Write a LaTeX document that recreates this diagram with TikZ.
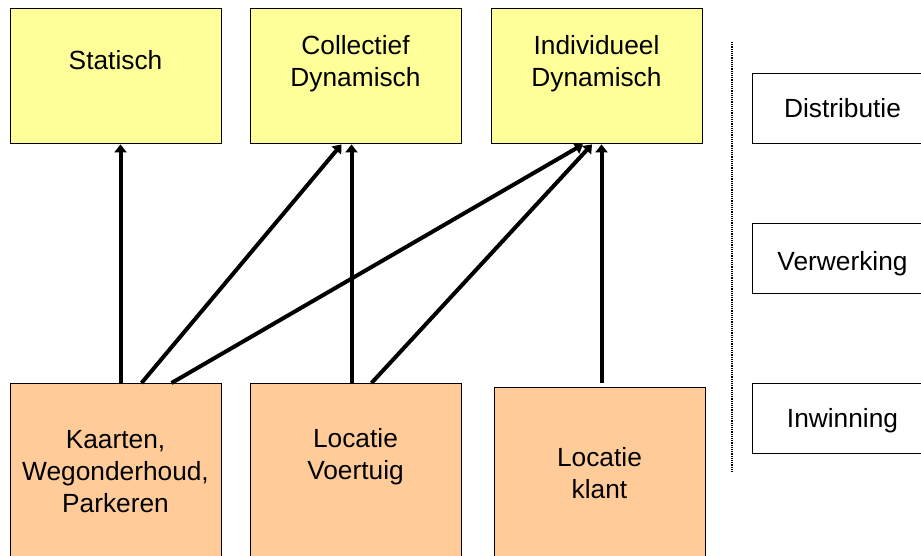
\documentclass[tikz,border=0pt]{standalone}
\usepackage{fontspec}
\setmainfont{Liberation Sans}
\usetikzlibrary{arrows.meta}
\definecolor{boxyellow}{HTML}{FFFF99}
\definecolor{boxorange}{HTML}{FFCC99}
\begin{document}
\begin{tikzpicture}[x=1pt,y=-1pt,
  boxstyle/.style={draw=black,line width=1.4pt,inner sep=0pt,anchor=north west},
  ybox/.style={boxstyle,fill=boxyellow,minimum width=211pt,minimum height=135pt},
  obox/.style={boxstyle,fill=boxorange,minimum width=211pt,minimum height=190pt},
  wbox/.style={boxstyle,fill=white,minimum width=181pt,minimum height=70pt},
  lbl/.style={inner sep=0pt,align=center,font=\fontsize{26.3}{32}\selectfont},
  conn/.style={line width=4pt,-{Triangle[length=8pt,width=12pt]}},
  sepline/.style={line width=2pt,dash pattern=on 1.2pt off 1pt}
]
\useasboundingbox (0,0) rectangle (921,555);
\clip (0,0) rectangle (921,555);
% top boxes
\node[ybox] (stat) at (10,8) {};
\node[ybox] (coll) at (250,8) {};
\node[ybox] (indi) at (491,8) {};
\node[lbl] at (115.5,60.5) {Statisch};
\node[lbl] at (355.5,63.5) {Collectief\\Dynamisch};
\node[lbl] at (596.5,63.5) {Individueel\\Dynamisch};
% bottom boxes
\node[obox] (kaart) at (10,383) {};
\node[obox] (voer) at (250,383) {};
\node[obox] (klant) at (494,387) {};
\node[lbl] at (115.5,471.5) {Kaarten,\\Wegonderhoud,\\Parkeren};
\node[lbl] at (355.5,457) {Locatie\\Voertuig};
\node[lbl] at (599.5,473) {Locatie\\klant};
% right boxes
\node[wbox] (dist) at (752,73) {};
\node[wbox] (verw) at (752,223) {};
\node[wbox] (inwi) at (752,383) {};
\node[lbl] at (842.5,108.5) {Distributie};
\node[lbl] at (842.5,264) {Verwerking};
\node[lbl] at (842.5,421) {Inwinning};
% dotted separator
\coordinate (sepT) at (732,42);
\coordinate (sepB) at (732,472);
\draw[sepline] (sepT) -- (sepB);
% connector end points
\coordinate (s1) at (kaart.north west -| 120.5,0);
\coordinate (s2) at (kaart.north west -| 141.5,0);
\coordinate (s3) at (kaart.north west -| 171.5,0);
\coordinate (s4) at (voer.north west -| 351.5,0);
\coordinate (s5) at (voer.north west -| 371.5,0);
\coordinate (s6) at (601.5,383);
\coordinate (t1) at (stat.south west -| 120.5,0);
\coordinate (t2) at (coll.south west -| 341.5,0);
\coordinate (t3) at (indi.south west -| 583,0);
\coordinate (t4) at (coll.south west -| 351.5,0);
\coordinate (t5) at (indi.south west -| 592,0);
\coordinate (t6) at (indi.south west -| 601.5,0);
\draw[conn] (s1) -- (t1);
\draw[conn] (s2) -- (t2);
\draw[conn] (s3) -- (t3);
\draw[conn] (s4) -- (t4);
\draw[conn] (s5) -- (t5);
\draw[conn] (s6) -- (t6);
\end{tikzpicture}
\end{document}
